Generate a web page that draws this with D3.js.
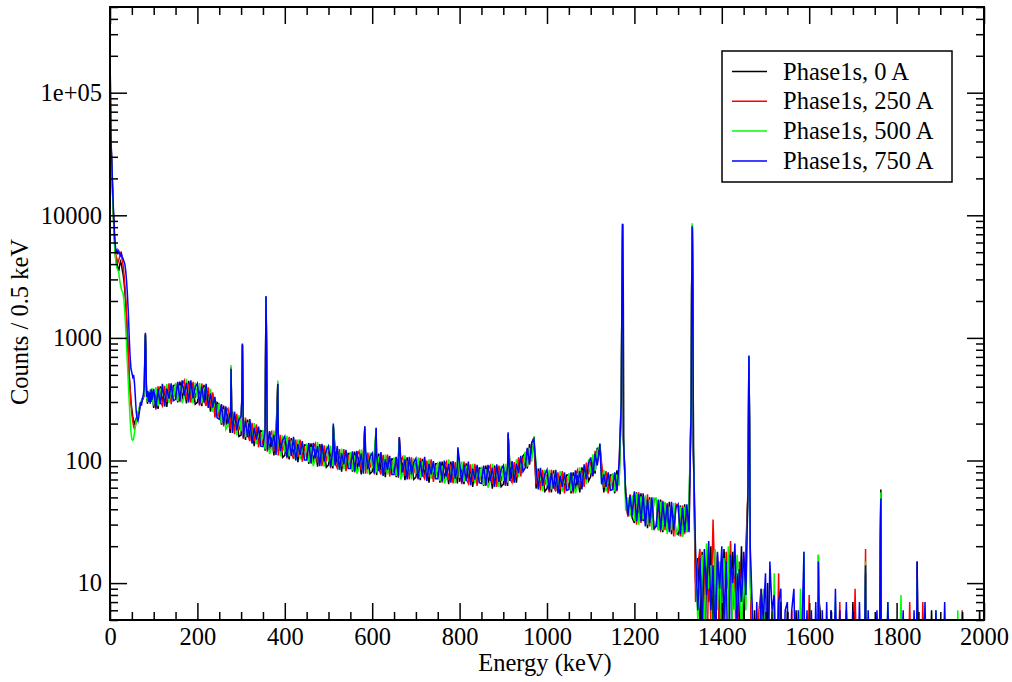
<!DOCTYPE html>
<html>
<head>
<meta charset="utf-8">
<script src="https://cdn.jsdelivr.net/npm/d3@7"></script>
<style>
  body { margin: 0; background: #fff; }
  svg { display: block; }
  text { font-family: "Liberation Serif", "Times New Roman", serif; fill: #000; }
</style>
</head>
<body>
<svg id="chart" width="1012" height="682"></svg>
<script>
// ---- data ----
const seriesNames = ['Phase1s, 0 A', 'Phase1s, 250 A', 'Phase1s, 500 A', 'Phase1s, 750 A'];
const seriesColors = ['#000000', '#ff0000', '#00ff00', '#0000ff'];

const xTicks = [0, 200, 400, 600, 800, 1000, 1200, 1400, 1600, 1800, 2000];
const yTicks = [10, 100, 1000, 10000, 100000];
const yTickLabels = ['10', '100', '1000', '10000', '1e+05'];

// low energy part, fine steps (keV)
const lowEnergy = [0.5, 1, 1.5, 2, 3, 4, 5, 6, 7, 8, 9, 10, 11, 12, 13, 14,
  16, 18, 20, 22, 24, 26, 28, 30, 32, 34, 36, 38, 40, 42, 44, 46, 48, 50, 52, 54, 56, 58,
  60, 62, 64, 66, 68, 70, 72, 74, 76, 78, 79, 80, 81, 82, 83, 84, 86, 88, 90, 92, 94, 96, 98];

const lowBlack = [150000, 85000, 58000, 43000, 33000, 26000, 20000, 15000, 12000, 9500, 8000, 6500, 5600, 5000, 4500, 4300,
  4000, 3700, 3500, 3900, 4200, 4000, 3600, 3300, 2900, 2400, 1900, 1400, 1000, 700, 480, 380, 300, 260, 230, 210, 200, 210,
  220, 230, 240, 250, 270, 290, 300, 310, 320, 340, 450, 800, 1050, 750, 420, 320, 290, 350, 300, 360, 300, 370, 310];
const lowRed = [155000, 88000, 59000, 44000, 34000, 27000, 21000, 16000, 12500, 10000, 8500, 7000, 6000, 5300, 4800, 4600,
  4400, 4100, 4300, 4600, 4900, 4700, 4300, 3900, 3300, 2700, 2100, 1500, 1050, 720, 500, 380, 290, 240, 210, 190, 180, 190,
  210, 230, 240, 250, 280, 290, 300, 320, 330, 350, 470, 820, 1080, 780, 430, 320, 360, 300, 350, 310, 365, 305, 350];
const lowGreen = [150000, 84000, 57000, 42000, 32000, 25000, 19000, 14500, 11500, 9000, 7500, 6200, 5300, 4700, 4300, 4000,
  3700, 3600, 3400, 3000, 2700, 2500, 2400, 2300, 2000, 1600, 1200, 850, 600, 420, 300, 220, 170, 150, 146, 150, 170, 190,
  210, 230, 250, 260, 280, 300, 310, 320, 330, 350, 460, 800, 1060, 760, 420, 330, 300, 370, 310, 380, 320, 390, 300];
const lowBlue = [160000, 90000, 60000, 45000, 35000, 28000, 22000, 17000, 13000, 11000, 9000, 7500, 6500, 5800, 5200, 5000,
  5200, 4800, 5100, 4900, 4700, 4900, 4600, 4400, 4200, 4000, 3500, 2900, 2200, 1600, 1000, 700, 560, 520, 480, 500, 430, 330,
  250, 220, 210, 230, 260, 300, 280, 320, 340, 380, 500, 850, 1100, 800, 450, 330, 370, 300, 360, 290, 380, 310, 360];

// main part: 100 .. 2000 keV every 5 keV
const gridEnergy = d3.range(100, 2000.1, 5);

const gridBlack = [
  269,371,264,402,299,380,273,412,306,409,
  414,298,441,315,405,292,446,318,402,288,
  298,399,278,414,299,369,250,348,238,297,
  286,196,281,193,240,168,252,176,220,157,
  161,214,147,216,155,189,131,190,136,175,
  171,120,173,122,154,110,167,118,149,106,
  110,148,102,152,111,138,97,143,104,134,
  133,94,138,97,124,89,136,96,122,88,
  92,123,86,127,93,116,81,119,88,114,
  113,81,118,84,107,77,118,84,107,78,
  81,109,76,114,83,103,73,108,78,103,
  102,73,106,76,96,69,106,76,97,70,
  73,99,69,103,76,94,66,99,71,94,
  94,66,98,70,89,64,98,70,89,65,
  67,91,64,95,70,87,61,90,66,87,
  86,62,91,65,82,59,91,65,84,61,
  64,88,62,95,70,90,66,102,78,109,
  114,86,136,105,151,59,86,61,77,56,
  59,79,55,83,60,75,53,79,58,76,
  76,54,80,58,76,55,88,65,88,68,
  74,105,78,127,112,88,55,79,58,76,
  76,54,83,67,280,140,55,35,48,34,
  31,55,32,54,32,50,28,50,30,49,
  49,27,48,26,45,27,46,25,41,26,
  25,43,24,44,26,42,280,120,10,16,
  5,18,0,14,7,20,4,16,0,12,
  6,19,9,14,0,18,8,12,5,20,
  4,15,55,18,0,6,0,0,0,8,
  0,10,0,6,0,0,0,7,0,0,
  6,0,0,0,6,0,0,0,0,0,
  0,0,0,0,0,6,0,0,0,0,
  6,0,0,0,0,0,0,6,0,0,
  7,0,0,0,0,0,0,0,0,0,
  0,0,0,0,0,0,0,0,0,0,
  0,0,0,0,0,0,0,0,0,0,
  0,0,0,0,0,0,6,0,0,0,
  0,0,0,0,0,0,0,0,0,0,
  0,0,0,0,0,0,0,0,6,0,
  0];
const gridRed = [
  352,260,403,302,279,407,301,426,288,394,
  326,432,299,413,450,314,424,296,438,324,
  391,280,425,311,279,395,275,360,224,286,
  224,284,190,253,266,181,239,164,240,176,
  211,150,224,162,144,203,144,197,128,168,
  135,174,118,160,172,118,158,110,162,120,
  144,104,156,114,103,148,107,148,98,130,
  105,137,94,128,138,96,129,90,133,99,
  120,86,131,95,87,124,89,124,82,110,
  89,117,80,110,119,83,112,78,116,87,
  106,77,116,86,77,111,80,112,74,99,
  80,106,72,99,107,75,100,70,106,78,
  96,70,105,77,71,100,73,102,67,91,
  74,96,66,91,98,69,93,65,97,73,
  88,64,98,71,65,93,67,94,62,84,
  68,89,62,85,91,64,87,61,91,68,
  84,62,95,71,66,97,73,106,74,105,
  90,125,92,138,155,64,82,57,84,63,
  77,55,84,62,56,80,58,82,54,73,
  60,79,54,76,84,60,83,61,96,77,
  97,74,120,95,118,94,60,82,54,73,
  60,79,56,88,320,160,52,35,53,39,
  54,30,55,31,50,31,53,29,47,27,
  30,47,26,47,27,45,27,42,24,44,
  42,24,43,25,40,27,320,130,7,14,
  19,6,13,0,16,5,33,8,17,3,
  14,2,18,9,22,6,11,0,15,8,
  12,19,58,14,0,0,0,6,9,0,
  0,0,0,0,0,0,12,0,0,0,
  0,0,6,0,0,0,0,0,0,0,
  8,0,0,0,0,0,0,0,0,0,
  0,0,0,0,7,0,0,0,0,0,
  0,9,0,0,0,0,0,0,0,0,
  0,0,0,0,0,0,0,0,0,0,
  0,0,0,0,0,0,7,0,0,0,
  0,0,7,0,0,0,0,0,0,0,
  0,0,0,0,0,0,0,0,0,0,
  6,0,0,0,0,0,0,0,0,0,
  0];
const gridGreen = [
  288,397,277,375,401,276,420,295,396,314,
  429,305,411,293,330,464,312,422,292,432,
  320,427,292,386,401,268,384,249,308,228,
  296,201,262,179,195,267,176,234,160,235,
  173,229,155,202,208,138,202,136,176,134,
  177,123,162,113,126,175,117,156,108,160,
  118,159,108,142,149,100,149,102,134,103,
  138,97,129,90,101,141,95,128,89,132,
  98,132,90,119,125,84,125,85,113,88,
  117,83,110,78,87,123,82,112,78,116,
  86,117,80,106,111,75,112,77,101,79,
  106,75,99,70,78,110,74,100,70,104,
  78,106,72,96,101,68,102,71,92,72,
  97,68,91,65,72,102,69,92,65,97,
  72,98,67,88,93,63,94,65,86,67,
  89,63,85,60,67,94,64,87,61,91,
  68,94,66,88,94,66,102,73,101,83,
  118,89,127,98,158,94,60,81,56,84,
  63,84,58,77,80,54,82,56,75,58,
  79,56,75,54,62,88,61,87,64,102,
  79,112,82,119,130,64,84,56,75,58,
  79,56,77,62,330,170,39,50,35,52,
  32,54,30,51,33,52,30,48,27,49,
  49,27,46,27,46,25,42,27,45,25,
  27,42,24,42,26,44,330,140,16,5,
  8,17,4,21,9,14,0,19,6,15,
  3,16,8,20,0,13,6,17,10,4,
  14,6,62,10,5,0,0,0,0,9,
  0,0,0,0,12,0,0,0,0,0,
  0,0,0,0,0,0,9,0,0,0,
  0,0,0,0,0,0,0,0,0,0,
  0,0,7,0,0,0,0,0,0,0,
  0,0,0,0,0,0,0,0,0,0,
  0,0,0,0,0,0,7,0,0,0,
  0,0,8,0,0,0,0,0,0,0,
  0,0,0,0,0,0,0,0,6,0,
  0,0,0,0,0,0,0,0,6,0,
  0,0,0,0,0,0,0,0,0,0,
  7];
const gridBlue = [
  384,267,380,288,422,276,385,320,425,307,
  315,439,307,450,338,430,298,451,321,396,
  426,287,400,297,422,268,352,270,330,223,
  217,289,195,276,200,247,168,250,176,216,
  230,154,212,155,218,138,185,148,189,131,
  130,177,121,174,129,162,111,167,119,146,
  157,107,147,109,156,100,136,111,144,101,
  101,139,96,139,104,131,90,137,98,121,
  131,89,123,91,131,84,114,93,122,86,
  86,119,82,120,89,114,78,120,85,107,
  115,79,109,82,117,75,102,84,109,77,
  77,107,74,108,80,102,70,107,77,96,
  104,71,99,74,107,68,94,77,99,71,
  71,98,68,100,74,94,66,99,71,89,
  96,66,92,68,98,63,86,70,92,66,
  65,91,63,92,68,87,61,93,67,84,
  91,63,90,68,99,66,94,79,109,81,
  87,127,94,140,150,87,58,87,62,77,
  84,57,79,59,84,54,75,61,80,57,
  58,80,56,83,63,82,58,93,70,94,
  106,75,113,91,125,64,77,61,80,57,
  58,80,57,96,300,150,54,36,52,36,
  56,32,53,32,54,29,48,31,50,28,
  29,48,27,46,29,44,26,46,27,41,
  44,25,41,26,44,26,300,120,18,6,
  16,4,19,8,22,6,14,3,18,9,
  20,5,15,0,17,10,21,4,13,7,
  18,8,60,20,6,0,7,0,9,5,
  12,0,15,6,8,0,7,9,0,6,
  7,0,6,9,0,6,0,7,0,6,
  0,6,0,7,0,0,6,0,7,0,
  6,0,9,0,6,0,0,7,0,0,
  6,0,0,7,0,0,0,6,0,0,
  0,6,0,0,0,0,7,0,0,0,
  0,0,0,6,0,0,0,0,6,0,
  0,0,0,7,0,0,0,0,6,0,
  0,0,7,0,0,0,0,0,0,0,
  0,0,0,0,0,0,0,0,0,0,
  0];

// photo peaks (apex and shoulders), placed between grid points
const peakEnergy = [276, 277, 278.5, 301.5, 303, 304.5, 356, 357, 358.5, 384, 511, 583, 609, 662, 796, 911, 1121,
  1171.5, 1173, 1174.5, 1331, 1332.5, 1334, 1461, 1462, 1463.5, 1588, 1621, 1729, 1762.5, 1764, 1847];
const peakBlack = [220, 560, 220, 300, 880, 300, 700, 2150, 700, 420, 190, 180, 175, 150, 120, 160, 130,
  2500, 8400, 2500, 2400, 8200, 2400, 200, 700, 200, 12, 8, 12, 20, 58, 15];
const peakRed = [230, 580, 230, 300, 880, 300, 700, 2150, 700, 430, 185, 185, 180, 155, 118, 165, 135,
  2600, 8500, 2600, 2500, 8300, 2500, 200, 680, 200, 10, 17, 19, 18, 52, 12];
const peakGreen = [240, 600, 240, 300, 870, 300, 700, 2150, 700, 450, 195, 190, 185, 150, 125, 162, 138,
  2700, 8600, 2700, 2600, 8600, 2600, 210, 710, 210, 18, 17, 15, 20, 55, 11];
const peakBlue = [225, 560, 225, 310, 900, 310, 720, 2200, 720, 420, 200, 190, 185, 155, 128, 170, 137,
  2600, 8500, 2600, 2400, 8100, 2400, 210, 720, 210, 18, 15, 14, 18, 49, 15];

const lowCounts = [lowBlack, lowRed, lowGreen, lowBlue];
const gridCounts = [gridBlack, gridRed, gridGreen, gridBlue];
const peakCounts = [peakBlack, peakRed, peakGreen, peakBlue];

// ---- chart ----
const plot = { left: 110, right: 984, top: 7, bottom: 620 };
const fontSize = 24.5;

const svg = d3.select('#chart');

const x = d3.scaleLinear().domain([0, 2000]).range([plot.left, plot.right]);
const y = d3.scaleLog().domain([5, 500000]).range([plot.bottom, plot.top]);

svg.append('defs').append('clipPath').attr('id', 'clip')
  .append('rect')
  .attr('x', plot.left).attr('y', plot.top)
  .attr('width', plot.right - plot.left).attr('height', plot.bottom - plot.top);

const series = seriesNames.map((name, i) => {
  const pts = [];
  lowEnergy.forEach((e, j) => pts.push([e, lowCounts[i][j]]));
  gridEnergy.forEach((e, j) => pts.push([e, gridCounts[i][j]]));
  peakEnergy.forEach((e, j) => pts.push([e, peakCounts[i][j]]));
  pts.sort((a, b) => a[0] - b[0]);
  return { name, color: seriesColors[i], pts };
});

// empty bins (0 counts) fall below the log axis and get clipped
const line = d3.line()
  .x(d => x(d[0]))
  .y(d => y(Math.max(d[1], 1)));

svg.append('g')
  .attr('clip-path', 'url(#clip)')
  .selectAll('path')
  .data(series)
  .enter()
  .append('path')
  .attr('d', d => line(d.pts))
  .attr('fill', 'none')
  .attr('stroke', d => d.color)
  .attr('stroke-width', 1.5);

// minor tick values
const xMinor = d3.range(0, 2001, 50).filter(v => v % 200 !== 0);
const yMinor = [];
[1, 10, 100, 1000, 10000, 100000].forEach(dec => {
  for (let k = 2; k <= 9; k++) {
    const v = dec * k;
    if (v >= 5 && v <= 500000) yMinor.push(v);
  }
});

function styleAxis(g) {
  g.select('.domain').remove();
  g.selectAll('.tick line').attr('stroke', '#000').attr('stroke-width', 1.5);
  g.selectAll('.tick text').style('font-size', fontSize + 'px')
    .style('font-family', '"Liberation Serif", "Times New Roman", serif');
}

// bottom
svg.append('g')
  .attr('transform', `translate(0,${plot.bottom})`)
  .call(d3.axisBottom(x).tickValues(xTicks).tickFormat(d3.format('d')).tickSize(-17).tickPadding(8))
  .call(styleAxis);
svg.append('g')
  .attr('transform', `translate(0,${plot.bottom})`)
  .call(d3.axisBottom(x).tickValues(xMinor).tickFormat('').tickSize(-8))
  .call(styleAxis);
// top
svg.append('g')
  .attr('transform', `translate(0,${plot.top})`)
  .call(d3.axisTop(x).tickValues(xTicks).tickFormat('').tickSize(-17))
  .call(styleAxis);
svg.append('g')
  .attr('transform', `translate(0,${plot.top})`)
  .call(d3.axisTop(x).tickValues(xMinor).tickFormat('').tickSize(-8))
  .call(styleAxis);
// left
svg.append('g')
  .attr('transform', `translate(${plot.left},0)`)
  .call(d3.axisLeft(y).tickValues(yTicks).tickFormat((d, i) => yTickLabels[i]).tickSize(-17).tickPadding(8))
  .call(styleAxis);
svg.append('g')
  .attr('transform', `translate(${plot.left},0)`)
  .call(d3.axisLeft(y).tickValues(yMinor).tickFormat('').tickSize(-8))
  .call(styleAxis);
// right
svg.append('g')
  .attr('transform', `translate(${plot.right},0)`)
  .call(d3.axisRight(y).tickValues(yTicks).tickFormat('').tickSize(-17))
  .call(styleAxis);
svg.append('g')
  .attr('transform', `translate(${plot.right},0)`)
  .call(d3.axisRight(y).tickValues(yMinor).tickFormat('').tickSize(-8))
  .call(styleAxis);

// frame
svg.append('rect')
  .attr('x', plot.left).attr('y', plot.top)
  .attr('width', plot.right - plot.left).attr('height', plot.bottom - plot.top)
  .attr('fill', 'none').attr('stroke', '#000').attr('stroke-width', 2);

// axis titles
svg.append('text')
  .attr('x', 545)
  .attr('y', 671)
  .attr('text-anchor', 'middle')
  .style('font-size', fontSize + 'px')
  .text('Energy (keV)');

svg.append('text')
  .attr('transform', 'translate(28,322) rotate(-90)')
  .attr('text-anchor', 'middle')
  .style('font-size', fontSize + 'px')
  .text('Counts / 0.5 keV');

// legend
const legend = svg.append('g');
legend.append('rect')
  .attr('x', 722).attr('y', 51).attr('width', 230).attr('height', 131)
  .attr('fill', '#fff').attr('stroke', '#000').attr('stroke-width', 1.5);

const rows = legend.selectAll('.row')
  .data(series)
  .enter()
  .append('g')
  .attr('transform', (d, i) => `translate(0,${71.5 + i * 29.8})`);

rows.append('line')
  .attr('x1', 732).attr('x2', 767).attr('y1', 0).attr('y2', 0)
  .attr('stroke', d => d.color).attr('stroke-width', 1.5);

rows.append('text')
  .attr('x', 783).attr('y', 8)
  .style('font-size', fontSize + 'px')
  .text(d => d.name);
</script>
</body>
</html>
